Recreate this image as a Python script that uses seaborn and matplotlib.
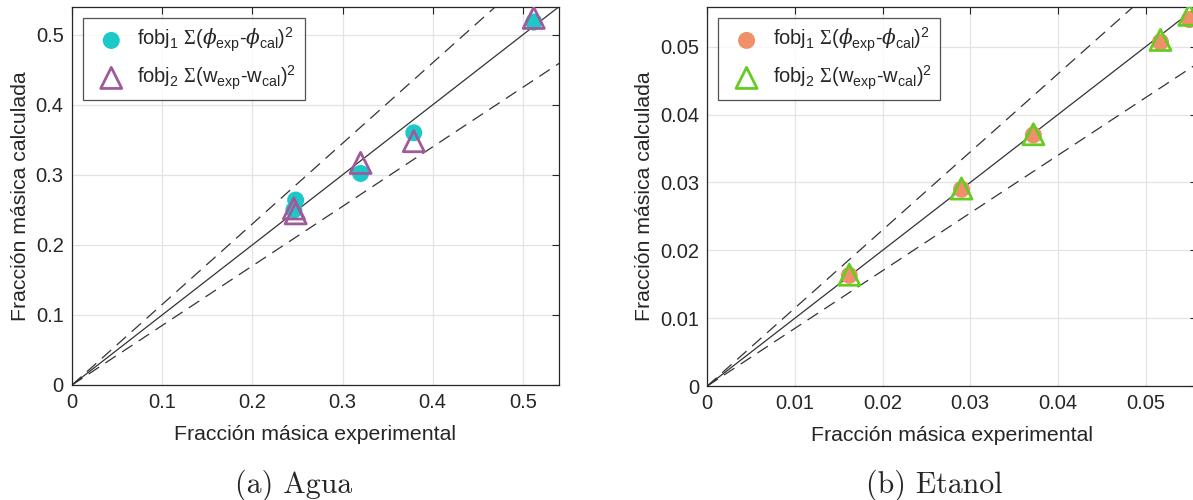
import numpy as np
import pandas as pd
import matplotlib
matplotlib.use("Agg")
import matplotlib.pyplot as plt
import seaborn as sns

# ---- data ----
agua_exp_f1 = [0.246, 0.248, 0.320, 0.379, 0.512]
agua_cal_f1 = [0.250, 0.264, 0.302, 0.360, 0.518]
agua_exp_f2 = [0.246, 0.248, 0.320, 0.379, 0.512]
agua_cal_f2 = [0.252, 0.245, 0.317, 0.348, 0.524]

etanol_exp_f1 = [0.0162, 0.0290, 0.0372, 0.0517, 0.0550]
etanol_cal_f1 = [0.0163, 0.0290, 0.0370, 0.0507, 0.0540]
etanol_exp_f2 = [0.0162, 0.0290, 0.0372, 0.0517, 0.0550]
etanol_cal_f2 = [0.0164, 0.0291, 0.0371, 0.0510, 0.0547]

agua_ticks = [0, 0.1, 0.2, 0.3, 0.4, 0.5]
agua_ticklabels = ["0", "0.1", "0.2", "0.3", "0.4", "0.5"]
etanol_ticks = [0, 0.01, 0.02, 0.03, 0.04, 0.05]
etanol_ticklabels = ["0", "0.01", "0.02", "0.03", "0.04", "0.05"]

label_f1 = r"fobj$_\mathsf{1}$ $\Sigma$($\phi_\mathsf{exp}$-$\phi_\mathsf{cal}$)$^\mathsf{2}$"
label_f2 = r"fobj$_\mathsf{2}$ $\Sigma$(w$_\mathsf{exp}$-w$_\mathsf{cal}$)$^\mathsf{2}$"

sns.set_style("white")
plt.rcParams["font.family"] = ["Liberation Sans", "DejaVu Sans"]
plt.rcParams["mathtext.fontset"] = "custom"
plt.rcParams["mathtext.rm"] = "Liberation Serif"
plt.rcParams["mathtext.sf"] = "Liberation Sans"
plt.rcParams["mathtext.it"] = "DejaVu Serif:italic"
plt.rcParams["mathtext.bf"] = "Liberation Serif:bold"

fig = plt.figure(figsize=(11.93, 5.0), dpi=100)
ax1 = fig.add_axes([72 / 1193, 115 / 500, 487 / 1193, 378.3 / 500])
ax2 = fig.add_axes([707.3 / 1193, 114 / 500, 490 / 1193, 379.3 / 500])

def panel(ax, xe1, yc1, xe2, yc2, lim, ticks, ticklabels, c1, c2):
    df1 = pd.DataFrame({"x": xe1, "y": yc1})
    df2 = pd.DataFrame({"x": xe2, "y": yc2})
    ref = np.array([0, lim * 1.2])
    ax.plot(ref, ref, color="#333333", lw=0.9, zorder=2)
    ax.plot(ref, 1.15 * ref, color="#333333", lw=0.9, ls=(0, (10, 6)), zorder=2)
    ax.plot(ref, 0.85 * ref, color="#333333", lw=0.9, ls=(0, (10, 6)), zorder=2)
    sns.scatterplot(data=df1, x="x", y="y", ax=ax, marker="o", s=150,
                    color=c1, edgecolor="none", label=label_f1, zorder=3)
    sns.scatterplot(data=df2, x="x", y="y", ax=ax, marker="^", s=230,
                    facecolor="none", edgecolor=c2, linewidth=2.0,
                    label=label_f2, zorder=4)
    ax.set_xlim(0, lim)
    ax.set_ylim(0, lim)
    ax.set_xticks(ticks)
    ax.set_xticklabels(ticklabels)
    ax.set_yticks(ticks)
    ax.set_yticklabels(ticklabels)
    ax.grid(True, color="#e3e3e3", lw=0.9)
    ax.set_axisbelow(True)
    for s in ax.spines.values():
        s.set_color("#262626")
        s.set_linewidth(0.9)
    ax.tick_params(direction="in", length=5, width=0.8, colors="#262626",
                   labelsize=14.5, labelcolor="#262626", top=True, right=True,
                   pad=6)
    ax.set_xlabel("Fracción másica experimental", fontsize=15.3, color="#262626",
                  labelpad=9)
    ax.set_ylabel("Fracción másica calculada", fontsize=15.3, color="#262626",
                  labelpad=4)
    leg = ax.legend(loc="upper left", fontsize=14.5, frameon=True, fancybox=False,
                    edgecolor="#262626", borderpad=0.4, handletextpad=0.3,
                    labelspacing=0.45, borderaxespad=0.55)
    leg.get_frame().set_linewidth(0.9)
    return ax

panel(ax1, agua_exp_f1, agua_cal_f1, agua_exp_f2, agua_cal_f2, 0.54,
      agua_ticks, agua_ticklabels, "#1CC9C9", "#9E5A9A")
panel(ax2, etanol_exp_f1, etanol_cal_f1, etanol_exp_f2, etanol_cal_f2, 0.0559,
      etanol_ticks, etanol_ticklabels, "#F0906A", "#66CC22")

fig.text(294 / 1193, 1 - 485 / 500, "(a) Agua", family="cmr10", fontsize=21.5,
         ha="center", va="center")
fig.text(934 / 1193, 1 - 485 / 500, "(b) Etanol", family="cmr10", fontsize=21.5,
         ha="center", va="center")

fig.savefig("out.png", dpi=100)
